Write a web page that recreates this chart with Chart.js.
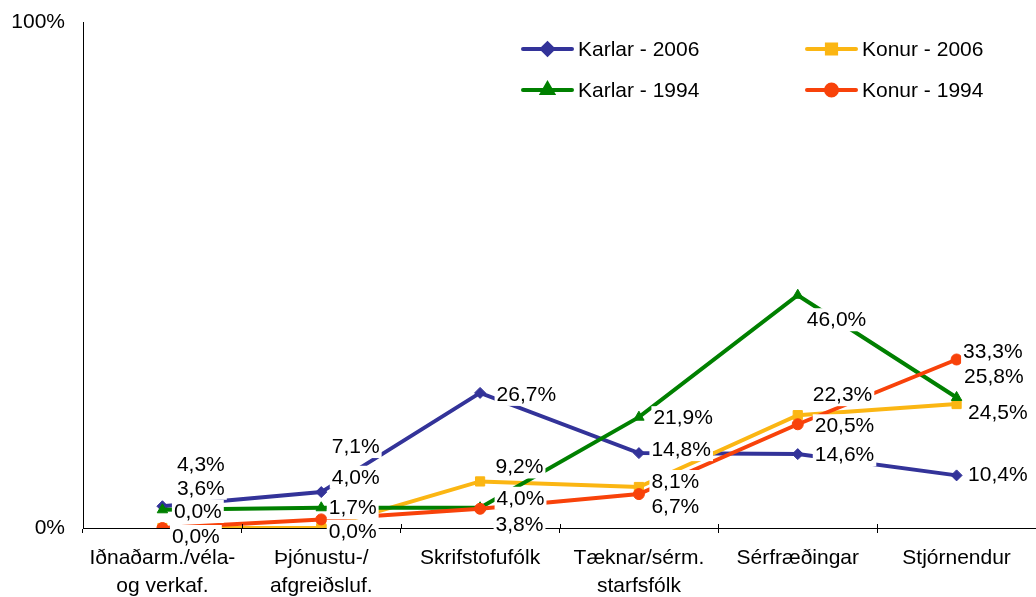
<!DOCTYPE html>
<html>
<head>
<meta charset="utf-8">
<script src="https://cdn.jsdelivr.net/npm/chart.js@4/dist/chart.umd.min.js"></script>
<style>
  html, body { margin: 0; padding: 0; background: #fff; overflow: hidden; }
  #wrap { width: 1036px; height: 597px; position: relative; }
</style>
</head>
<body>
<div id="wrap"><canvas id="c"></canvas></div>
<script>
const categories = [
  ["Iðnaðarm./véla-", "og verkaf."],
  ["Þjónustu-/", "afgreiðsluf."],
  "Skrifstofufólk",
  ["Tæknar/sérm.", "starfsfólk"],
  "Sérfræðingar",
  "Stjórnendur"
];
const seriesNames = ["Karlar - 2006", "Konur - 2006", "Karlar - 1994", "Konur - 1994"];
const karlar2006 = [4.3, 7.1, 26.7, 14.8, 14.6, 10.4];
const konur2006  = [0.0, 0.0, 9.2, 8.1, 22.3, 24.5];
const karlar1994 = [3.6, 4.0, 4.0, 21.9, 46.0, 25.8];
const konur1994  = [0.0, 1.7, 3.8, 6.7, 20.5, 33.3];
const yTicks = [0, 100];

// label placement offsets (dx from point to text left, dy from point to text centre)
const labelOffsets = [
  [[14.5,-42],[10.5,-46],[16.5,1],[12.5,-4],[17,0],[11.5,-1]],
  [[11.5,-17],[7.5,3],[15.5,-15],[12.5,-6],[15,-21],[11.5,8]],
  [[14.5,-22],[10.5,-31],[16.5,-10],[14.5,0],[9,24],[7.5,-21]],
  [[9.5,8],[7.5,-12],[15.5,15],[12.5,12],[17,1],[6.5,-8]]
];

const colors = ["#333399", "#FBB613", "#008000", "#F8420A"];
const pointStyles = ["rectRot", "rect", "triangle", "circle"];
const pointRadii = [5.5, 6.5, 6, 5.5];
const FONT = "'Liberation Sans', Arial, sans-serif";
const FS = 21;
const values = [karlar2006, konur2006, karlar1994, konur1994];

const datasets = values.map((v, i) => ({
  label: seriesNames[i],
  data: v,
  order: values.length - 1 - i,
  borderColor: colors[i],
  backgroundColor: colors[i],
  pointBackgroundColor: colors[i],
  pointBorderColor: colors[i],
  pointStyle: pointStyles[i],
  pointRadius: pointRadii[i],
  pointBorderWidth: 1,
  borderWidth: 4,
  tension: 0,
  fill: false
}));

const labelPlugin = {
  id: 'labels',
  afterDatasetsDraw(chart) {
    const ctx = chart.ctx;
    ctx.save();
    ctx.font = FS + "px " + FONT;
    ctx.textBaseline = 'middle';
    ctx.textAlign = 'left';
    chart.data.datasets.forEach((ds, i) => {
      const meta = chart.getDatasetMeta(i);
      meta.data.forEach((pt, j) => {
        const txt = ds.data[j].toFixed(1).replace('.', ',') + '%';
        const off = labelOffsets[i][j];
        const x = pt.x + off[0];
        const y = pt.y + off[1];
        const w = ctx.measureText(txt).width;
        ctx.fillStyle = '#fff';
        ctx.fillRect(x - 2, y - 11, w + 4, 23);
        ctx.fillStyle = '#000';
        ctx.fillText(txt, x, y + 1);
      });
    });
    ctx.restore();
  },
  afterDraw(chart) {
    const ctx = chart.ctx;
    const xs = chart.scales.x;
    const area = chart.chartArea;
    ctx.save();
    ctx.strokeStyle = '#000';
    ctx.lineWidth = 1;
    const n = chart.data.labels.length;
    const step = (xs.getPixelForTick(1) - xs.getPixelForTick(0));
    for (let k = 0; k <= n; k++) {
      const px = Math.round(xs.getPixelForTick(0) - step / 2 + k * step) + 0.5;
      ctx.beginPath();
      ctx.moveTo(px, area.bottom - 4);
      ctx.lineTo(px, area.bottom);
      ctx.stroke();
    }
    // legend
    const legendPos = [[523, 49], [807, 49], [523, 90], [807, 90]];
    ctx.font = FS + "px " + FONT;
    ctx.textBaseline = 'middle';
    ctx.textAlign = 'left';
    chart.data.datasets.forEach((ds, i) => {
      const [lx, ly] = legendPos[i];
      ctx.strokeStyle = colors[i];
      ctx.lineWidth = 4;
      ctx.lineCap = 'round';
      ctx.beginPath();
      ctx.moveTo(lx, ly);
      ctx.lineTo(lx + 49, ly);
      ctx.stroke();
      Chart.helpers.drawPoint(ctx, {
        pointStyle: pointStyles[i], radius: pointRadii[i], borderWidth: 1, rotation: 0
      }, lx + 24.5, ly);
      ctx.fillStyle = colors[i];
      ctx.fill();
      ctx.fillStyle = '#000';
      ctx.fillText(ds.label, lx + 55, ly + 1);
    });
    ctx.restore();
  }
};

new Chart(document.getElementById('c'), {
  type: 'line',
  data: { labels: categories, datasets },
  options: {
    responsive: true,
    maintainAspectRatio: false,
    animation: false,
    layout: { autoPadding: false, padding: { top: 22, right: 0, left: 0, bottom: 0 } },
    plugins: { legend: { display: false }, tooltip: { enabled: false } },
    scales: {
      x: {
        offset: true,
        grid: { display: true, offset: true, drawOnChartArea: false, drawTicks: true, tickLength: 5, color: '#000', lineWidth: 1 },
        border: { display: true, color: '#000', width: 1 },
        ticks: { color: '#000', font: { family: FONT, size: FS, lineHeight: 1.3 }, padding: 12, maxRotation: 0, autoSkip: false },
        afterFit(s) { s.height = 69; s.paddingLeft = 0; s.paddingRight = 0; }
      },
      y: {
        min: yTicks[0],
        max: yTicks[yTicks.length - 1],
        afterBuildTicks(s) { s.ticks = yTicks.map(v => ({ value: v })); },
        grid: { display: false, drawTicks: false },
        border: { display: true, color: '#000', width: 1 },
        ticks: { color: '#000', font: { family: FONT, size: FS }, padding: 18, callback: v => v + '%' },
        afterFit(s) { s.width = 83; s.paddingTop = 0; s.paddingBottom = 0; }
      }
    }
  },
  plugins: [labelPlugin]
});
</script>
</body>
</html>
